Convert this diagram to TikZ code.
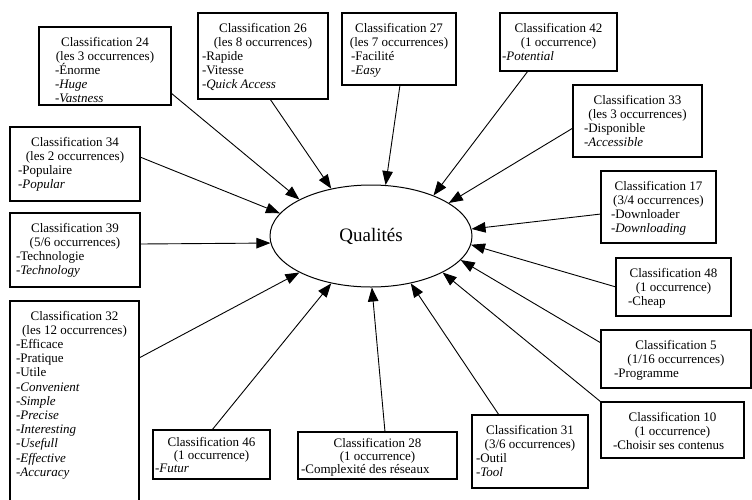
\documentclass[tikz,border=0pt]{standalone}
\usepackage{fontspec}
\setmainfont{Liberation Serif}
\usetikzlibrary{shapes.geometric,arrows.meta,calc}
\newcommand\clstext[7][19]{\parbox[t][#3pt][t]{#2pt}{\centering\rule{0pt}{#1pt}#5\\#6\par\raggedright\leftskip=#4pt\relax #7\par}}
\tikzset{
  clsbox/.style={draw, line width=1.1pt, inner sep=0pt, outer sep=0pt, anchor=north west, font=\fontsize{13}{14.2}\selectfont},
  tight/.style={font=\fontsize{13}{13}\selectfont},
  conn/.style={line width=0.9pt, -{Triangle[length=14pt,width=10.5pt]}},
}
\begin{document}
\begin{tikzpicture}[x=1pt,y=-1pt]
\useasboundingbox (0,0) rectangle (752,499);
\node[draw, ellipse, line width=1pt, minimum width=202pt, minimum height=102pt, inner sep=0pt, font=\fontsize{19}{22}\selectfont] (q) at (371,236) {Qualités};

\node[clsbox] (c24) at (39,27) {\clstext{132}{78}{16}{Classification 24}{(les 3 occurrences)}{-Énorme\\\textit{-Huge}\\\textit{-Vastness}}};
\node[clsbox] (c26) at (198,13) {\clstext{130}{86}{4}{Classification 26}{(les 8 occurrences)}{-Rapide\\-Vitesse\\\textit{-Quick Access}}};
\node[clsbox] (c27) at (342,13) {\clstext{114}{72}{9}{Classification 27}{(les 7 occurrences)}{-Facilité\\\textit{-Easy}}};
\node[clsbox] (c42) at (500,13) {\clstext{117}{58}{2}{Classification 42}{(1 occurrence)}{\textit{-Potential}}};
\node[clsbox] (c33) at (573,85) {\clstext{129}{72}{11}{Classification 33}{(les 3 occurrences)}{-Disponible\\\textit{-Accessible}}};
\node[clsbox] (c34) at (10,127) {\clstext{130}{74}{8}{Classification 34}{(les 2 occurrences)}{-Populaire\\\textit{-Popular}}};
\node[clsbox] (c39) at (10,213) {\clstext{130}{74}{6}{Classification 39}{(5/6 occurrences)}{-Technologie\\\textit{-Technology}}};
\node[clsbox, draw=none] (c32) at (10,301) {\clstext{129}{200}{6}{Classification 32}{(les 12 occurrences)}{-Efficace\\-Pratique\\-Utile\\\textit{-Convenient}\\\textit{-Simple}\\\textit{-Precise}\\\textit{-Interesting}\\\textit{-Usefull}\\\textit{-Effective}\\\textit{-Accuracy}}};
\draw[line width=1.1pt] (c32.south west) -- (c32.north west) -- (c32.north east) -- (c32.south east);
\node[clsbox, tight] (c46) at (153,430) {\clstext[16]{117}{49}{2}{Classification 46}{(1 occurrence)}{\textit{-Futur}}};
\node[clsbox, tight] (c28) at (298,432) {\clstext[15]{159}{47}{3}{Classification 28}{(1 occurrence)}{-Complexité des réseaux}};
\node[clsbox] (c31) at (472,415) {\clstext{116}{73}{4}{Classification 31}{(3/6 occurrences)}{-Outil\\\textit{-Tool}}};
\node[clsbox] (c10) at (601,402) {\clstext{143}{56}{12}{Classification 10}{(1 occurrence)}{-Choisir ses contenus}};
\node[clsbox] (c5) at (601,330) {\clstext{150}{58}{13}{Classification 5}{(1/16 occurrences)}{-Programme}};
\node[clsbox] (c48) at (616,258) {\clstext{115}{58}{12}{Classification 48}{(1 occurrence)}{-Cheap}};
\node[clsbox] (c17) at (601,171) {\clstext{115}{72}{10}{Classification 17}{(3/4 occurrences)}{-Downloader\\\textit{-Downloading}}};

\draw[conn] ($(c24.north east)+(0,66)$) -- (q.153);
\draw[conn] ($(c26.south west)+(72,0)$) -- (q.130);
\draw[conn] ($(c27.south west)+(58,0)$) -- (q.74);
\draw[conn] ($(c42.south west)+(28,0)$) -- (q.33);
\draw[conn] ($(c33.north west)+(0,43)$) -- (q.23);
\draw[conn] ($(c34.north east)+(0,30)$) -- (q.166);
\draw[conn] ($(c39.north east)+(0,31)$) -- (q.184);
\draw[conn] ($(c32.north east)+(0,57)$) -- (q.207);
\draw[conn] ($(c46.north west)+(59,0)$) -- (q.230);
\draw[conn] ($(c28.north west)+(87,0)$) -- (q.271);
\draw[conn] ($(c31.north west)+(27,0)$) -- (q.310);
\draw[conn] (c10.north west) -- (q.333);
\draw[conn] ($(c5.north west)+(0,13)$) -- (q.345);
\draw[conn] ($(c48.north west)+(0,29)$) -- (q.355);
\draw[conn] ($(c17.north west)+(0,43)$) -- (q.4);
\end{tikzpicture}
\end{document}
